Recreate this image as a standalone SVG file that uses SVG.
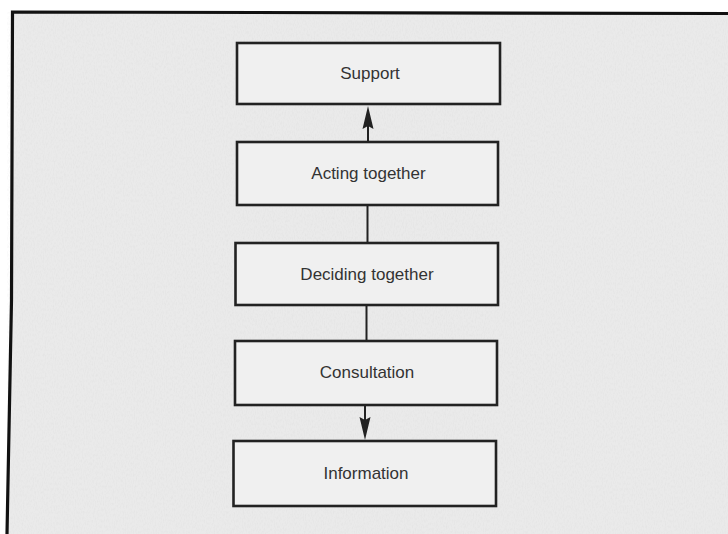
<svg xmlns="http://www.w3.org/2000/svg" width="728" height="534" viewBox="0 0 728 534">
  <defs>
    <filter id="grain" x="0" y="0" width="100%" height="100%">
      <feTurbulence type="fractalNoise" baseFrequency="0.9 0.35" numOctaves="2" seed="7" result="n"/>
      <feColorMatrix in="n" type="matrix" values="0 0 0 0 0.55  0 0 0 0 0.55  0 0 0 0 0.55  0 0 0 -1.6 0.95"/>
    </filter>
    <marker id="head" viewBox="0 0 12 22" refX="12" refY="6" markerWidth="12" markerHeight="22" markerUnits="userSpaceOnUse" orient="auto">
      <path d="M0 0 L22 6 L0 12 L4 6 Z" fill="#222"/>
    </marker>
    <style>
      .box { fill: #f0f0f0; stroke: #222; stroke-width: 2.6; }
      .label { font-family: "Liberation Sans", Arial, sans-serif; font-size: 17px; fill: #333; text-anchor: middle; dominant-baseline: central; }
      .link { stroke: #222; stroke-width: 2; fill: none; }
      .tip { fill: #222; }
    </style>
  </defs>

  <!-- page -->
  <rect x="0" y="0" width="728" height="534" fill="#ffffff"/>
  <path d="M728 13 L12.5 12 L11.5 300 L7 534 L728 534 Z" fill="#eaeaea"/>
  <path d="M728 13 L12.5 12 L11.5 300 L7 534 L728 534 Z" fill="#000" filter="url(#grain)" opacity="0.18"/>
  <path d="M728 13.5 L12.5 12 L11.5 300 L7 534" fill="none" stroke="#111" stroke-width="3.2"/>

  <!-- connectors -->
  <g id="connectors">
    <line class="link" x1="368" y1="142" x2="368" y2="124"/>
    <path class="tip" d="M368 106 L373.5 129 L368 126 L362.5 129 Z"/>
    <line class="link" x1="367.5" y1="205" x2="367.5" y2="243"/>
    <line class="link" x1="366.5" y1="305" x2="366.5" y2="341"/>
    <line class="link" x1="365" y1="405" x2="365" y2="420"/>
    <path class="tip" d="M365 440 L370.5 417 L365 420 L359.5 417 Z"/>
  </g>

  <!-- nodes -->
  <g id="support">
    <rect class="box" x="237" y="43" width="263" height="61"/>
    <text class="label" x="370" y="73.5">Support</text>
  </g>
  <g id="acting-together">
    <rect class="box" x="237" y="142" width="261" height="63"/>
    <text class="label" x="368.5" y="173.5">Acting together</text>
  </g>
  <g id="deciding-together">
    <rect class="box" x="235.5" y="243" width="262.5" height="62"/>
    <text class="label" x="367" y="274">Deciding together</text>
  </g>
  <g id="consultation">
    <rect class="box" x="235" y="341" width="262" height="64"/>
    <text class="label" x="367" y="372.5">Consultation</text>
  </g>
  <g id="information">
    <rect class="box" x="233.5" y="441" width="262.5" height="65"/>
    <text class="label" x="366" y="473">Information</text>
  </g>
</svg>
